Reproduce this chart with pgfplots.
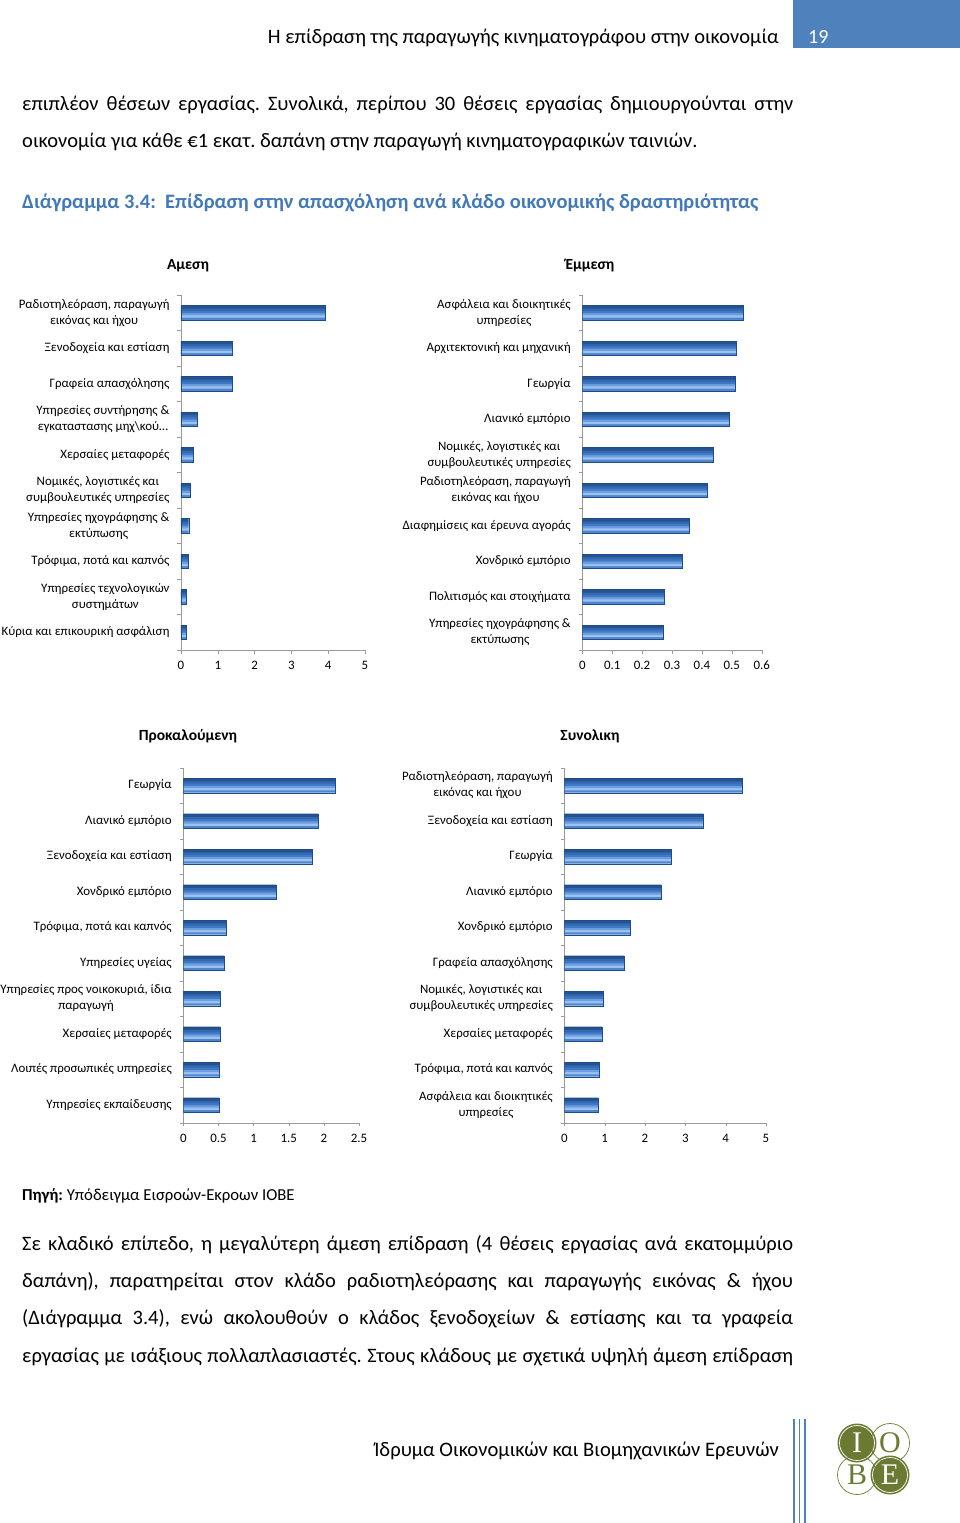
\documentclass[border=0pt]{standalone}
\usepackage{pgfplots}
\usepackage{pgfplotstable}
\pgfplotsset{compat=1.18}
\usepackage{fontspec}
\setmainfont{Carlito}
\newfontfamily\logofont{Liberation Serif}

\definecolor{hdrblue}{HTML}{4F81BD}
\definecolor{capblue}{HTML}{4279B8}
\definecolor{axgray}{HTML}{9A9A9A}
\definecolor{bardark}{HTML}{1E4C8A}
\definecolor{iobe}{HTML}{6B7A33}
% stripes of the bar shading, top to bottom
\definecolor{sA}{HTML}{4F86D0}
\definecolor{sB}{HTML}{9DC2EE}
\definecolor{sC}{HTML}{6C9EE0}
\definecolor{sD}{HTML}{4079C6}
\definecolor{sE}{HTML}{3468B0}
\definecolor{sF}{HTML}{24538F}

\newcommand\bodyfont{\fontsize{20.5}{24}\selectfont}
\newcommand\chartfont{\fontsize{12.9}{16}\selectfont}

\pgfplotstableread{
x y
3.91 0
1.40 1
1.40 2
0.44 3
0.34 4
0.24 5
0.21 6
0.19 7
0.15 8
0.14 9
}\direct
\pgfplotstableread{
x y
0.539 0
0.516 1
0.511 2
0.490 3
0.438 4
0.419 5
0.359 6
0.335 7
0.274 8
0.271 9
}\indirect
\pgfplotstableread{
x y
2.168 0
1.920 1
1.836 2
1.319 3
0.617 4
0.583 5
0.527 6
0.527 7
0.517 8
0.508 9
}\induced
\pgfplotstableread{
x y
4.41 0
3.45 1
2.66 2
2.40 3
1.64 4
1.49 5
0.967 6
0.934 7
0.868 8
0.835 9
}\total

\pgfplotsset{
  hbarchart/.style={
    scale only axis,
    height=355pt,
    xmin=0, ymin=-0.5, ymax=9.5,
    y dir=reverse,
    axis x line*=bottom, axis y line*=left,
    axis line style={axgray},
    tick style={axgray},
    tick align=outside,
    major tick length=3.5pt,
    ytick={-0.5,0.5,...,9.5},
    yticklabels={},
    extra y ticks={0,...,9},
    extra y tick style={major tick length=0pt,
      yticklabel style={align=center, font=\chartfont, xshift=-8pt}},
    ticklabel style={font=\chartfont},
    /pgf/number format/assume math mode=true,
    xticklabel style={yshift=-4pt},
  },
  stripe/.style 2 args={xbar, bar width=3.1pt, bar shift=#1, fill=#2, draw=none},
}

% bars drawn as six coloured stripes, then an outline
\newcommand\shadedbars[1]{%
  \addplot[stripe={-5.7pt}{sA}] table {#1};
  \addplot[stripe={-3.42pt}{sB}] table {#1};
  \addplot[stripe={-1.14pt}{sC}] table {#1};
  \addplot[stripe={1.14pt}{sD}] table {#1};
  \addplot[stripe={3.42pt}{sE}] table {#1};
  \addplot[stripe={5.7pt}{sF}] table {#1};
  \addplot[xbar, bar width=14.5pt, fill=none, draw=bardark, line width=0.4pt] table {#1};
}

\begin{document}
\frenchspacing
\begin{tikzpicture}
\path[use as bounding box] (0pt,0pt) rectangle (960pt,-1523pt);

% header
\fill[hdrblue] (793pt,0pt) rectangle (960pt,-48pt);
\node[anchor=base west, inner sep=0, white] at (808pt,-43pt) {\fontsize{20}{22}\selectfont 19};
\node[anchor=base east, inner sep=0] at (779pt,-43pt) {\fontsize{20.5}{22}\selectfont Η επίδραση της παραγωγής κινηματογράφου στην οικονομία};

% text above the chart
\node[anchor=base west, inner sep=0] at (22pt,-110pt) {\bodyfont\makebox[771pt][s]{επιπλέον θέσεων εργασίας. Συνολικά, περίπου 30 θέσεις εργασίας δημιουργούνται στην}};
\node[anchor=base west, inner sep=0] at (22pt,-147pt) {\bodyfont οικονομία για κάθε €1 εκατ. δαπάνη στην παραγωγή κινηματογραφικών ταινιών.};
\node[anchor=base west, inner sep=0, text=capblue] at (22pt,-208pt) {\bodyfont\bfseries Διάγραμμα 3.4:\ \ Επίδραση στην απασχόληση ανά κλάδο οικονομικής δραστηριότητας};

% panel titles
\node[anchor=base, inner sep=0] at (188pt,-269pt) {\fontsize{15.5}{17}\selectfont\bfseries Αμεση};
\node[anchor=base, inner sep=0] at (590pt,-269pt) {\fontsize{15.5}{17}\selectfont\bfseries Έμμεση};
\node[anchor=base, inner sep=0] at (188pt,-740pt) {\fontsize{15.5}{17}\selectfont\bfseries Προκαλούμενη};
\node[anchor=base, inner sep=0] at (590pt,-740pt) {\fontsize{15.5}{17}\selectfont\bfseries Συνολικη};

% Άμεση
\begin{axis}[hbarchart, at={(181pt,-650pt)}, anchor=south west,
  width=184pt, xmax=5, xtick={0,1,2,3,4,5},
  extra y tick labels={{Ραδιοτηλεόραση, παραγωγή\\εικόνας και ήχου},
    {Ξενοδοχεία και εστίαση}, {Γραφεία απασχόλησης},
    {Υπηρεσίες συντήρησης \&\\εγκαταστασης μηχ\textbackslash κού…},
    {Χερσαίες μεταφορές}, {Νομικές, λογιστικές και\\συμβουλευτικές υπηρεσίες},
    {Υπηρεσίες ηχογράφησης \&\\εκτύπωσης}, {Τρόφιμα, ποτά και καπνός},
    {Υπηρεσίες τεχνολογικών\\συστημάτων}, {Κύρια και επικουρική ασφάλιση}}]
\shadedbars{\direct}
\end{axis}

% Έμμεση
\begin{axis}[hbarchart, at={(582.3pt,-650pt)}, anchor=south west,
  width=179.4pt, xmax=0.6, xtick={0,0.1,0.2,0.3,0.4,0.5,0.6},
  extra y tick labels={{Ασφάλεια και διοικητικές\\υπηρεσίες},
    {Αρχιτεκτονική και μηχανική}, {Γεωργία}, {Λιανικό εμπόριο},
    {Νομικές, λογιστικές και\\συμβουλευτικές υπηρεσίες},
    {Ραδιοτηλεόραση, παραγωγή\\εικόνας και ήχου},
    {Διαφημίσεις και έρευνα αγοράς}, {Χονδρικό εμπόριο},
    {Πολιτισμός και στοιχήματα}, {Υπηρεσίες ηχογράφησης \&\\εκτύπωσης}}]
\shadedbars{\indirect}
\end{axis}

% Προκαλούμενη
\begin{axis}[hbarchart, at={(183.3pt,-1122.7pt)}, anchor=south west,
  width=175.7pt, xmax=2.5, xtick={0,0.5,1,1.5,2,2.5},
  extra y tick labels={{Γεωργία}, {Λιανικό εμπόριο}, {Ξενοδοχεία και εστίαση},
    {Χονδρικό εμπόριο}, {Τρόφιμα, ποτά και καπνός}, {Υπηρεσίες υγείας},
    {Υπηρεσίες προς νοικοκυριά, ίδια\\παραγωγή}, {Χερσαίες μεταφορές},
    {Λοιπές προσωπικές υπηρεσίες}, {Υπηρεσίες εκπαίδευσης}}]
\shadedbars{\induced}
\end{axis}

% Συνολικη
\begin{axis}[hbarchart, at={(564.3pt,-1122.7pt)}, anchor=south west,
  width=201.7pt, xmax=5, xtick={0,1,2,3,4,5},
  extra y tick labels={{Ραδιοτηλεόραση, παραγωγή\\εικόνας και ήχου},
    {Ξενοδοχεία και εστίαση}, {Γεωργία}, {Λιανικό εμπόριο},
    {Χονδρικό εμπόριο}, {Γραφεία απασχόλησης},
    {Νομικές, λογιστικές και\\συμβουλευτικές υπηρεσίες},
    {Χερσαίες μεταφορές}, {Τρόφιμα, ποτά και καπνός},
    {Ασφάλεια και διοικητικές\\υπηρεσίες}}]
\shadedbars{\total}
\end{axis}

% source and text below
\node[anchor=base west, inner sep=0] at (22pt,-1200pt) {\fontsize{16.7}{19}\selectfont\textbf{Πηγή:} Υπόδειγμα Εισροών-Εκροων ΙΟΒΕ};
\node[anchor=base west, inner sep=0] at (22pt,-1250pt) {\bodyfont\makebox[771pt][s]{Σε κλαδικό επίπεδο, η μεγαλύτερη άμεση επίδραση (4 θέσεις εργασίας ανά εκατομμύριο}};
\node[anchor=base west, inner sep=0] at (22pt,-1287pt) {\bodyfont\makebox[771pt][s]{δαπάνη), παρατηρείται στον κλάδο ραδιοτηλεόρασης και παραγωγής εικόνας \& ήχου}};
\node[anchor=base west, inner sep=0] at (22pt,-1324pt) {\bodyfont\makebox[771pt][s]{(Διάγραμμα 3.4), ενώ ακολουθούν ο κλάδος ξενοδοχείων \& εστίασης και τα γραφεία}};
\node[anchor=base west, inner sep=0] at (22pt,-1362pt) {\bodyfont\makebox[771pt][s]{εργασίας με ισάξιους πολλαπλασιαστές. Στους κλάδους με σχετικά υψηλή άμεση επίδραση}};

% footer
\node[anchor=base east, inner sep=0] at (779pt,-1456pt) {\fontsize{20.6}{22}\selectfont Ίδρυμα Οικονομικών και Βιομηχανικών Ερευνών};
\foreach \xx in {794,799.5,805} \draw[hdrblue, line width=1.3pt] (\xx pt,-1419pt) -- (\xx pt,-1523pt);

% logo
\fill[iobe] (857pt,-1443pt) circle (19.5pt);
\fill[iobe] (890pt,-1475pt) circle (19.5pt);
\draw[white, line width=0.7pt] (857pt,-1443pt) circle (17.5pt);
\draw[white, line width=0.7pt] (890pt,-1475pt) circle (17.5pt);
\draw[iobe, line width=0.7pt] (890pt,-1443pt) circle (19.5pt);
\draw[iobe, line width=0.7pt] (857pt,-1475pt) circle (19.5pt);
\node[white] at (857pt,-1443pt) {\logofont\fontsize{30}{30}\selectfont I};
\node[iobe] at (890pt,-1443pt) {\logofont\fontsize{30}{30}\selectfont O};
\node[iobe] at (857pt,-1475pt) {\logofont\fontsize{30}{30}\selectfont B};
\node[white] at (890pt,-1475pt) {\logofont\fontsize{30}{30}\selectfont E};
\end{tikzpicture}
\end{document}
